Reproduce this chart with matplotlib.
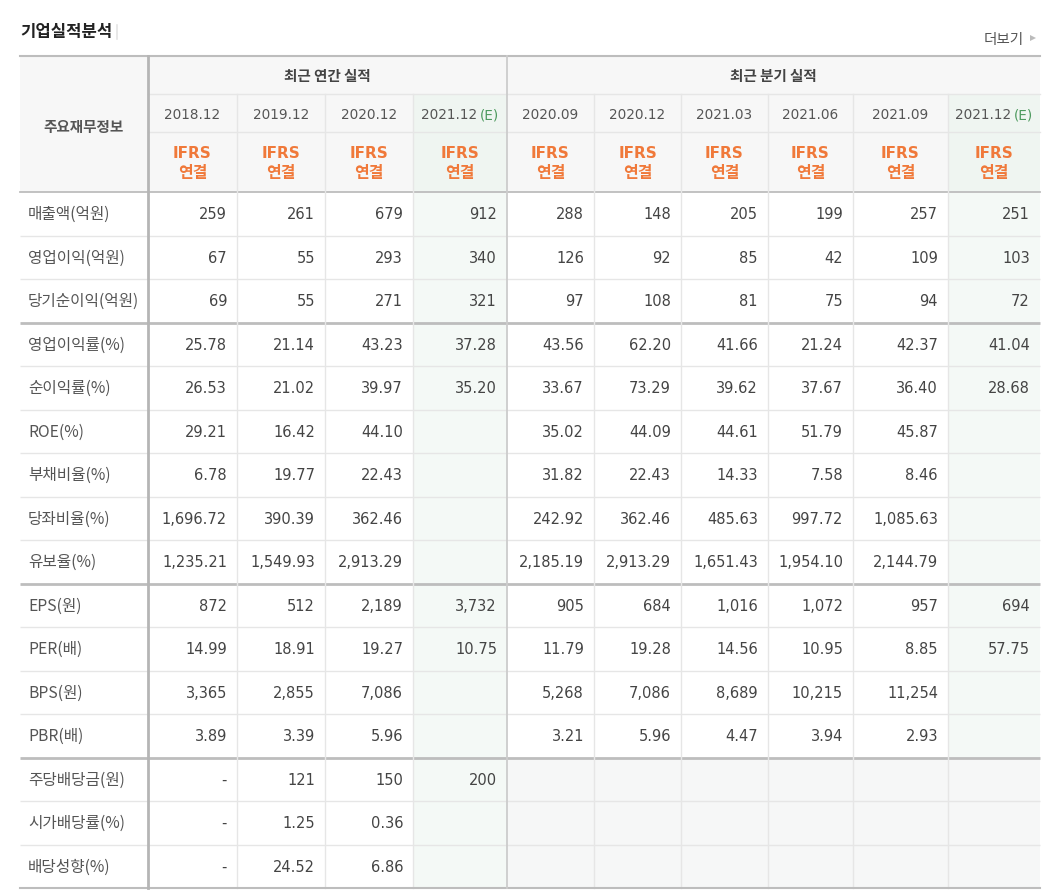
import matplotlib
matplotlib.use('Agg')
import matplotlib.pyplot as plt
from matplotlib.patches import Rectangle

# ---------------- data ----------------
title = '기업실적분석'
more_label = '더보기'
stub_header = '주요재무정보'
group_annual = '최근 연간 실적'
group_quarter = '최근 분기 실적'

annual_periods = ['2018.12', '2019.12', '2020.12', '2021.12']
annual_estimate = [False, False, False, True]
quarter_periods = ['2020.09', '2020.12', '2021.03', '2021.06', '2021.09', '2021.12']
quarter_estimate = [False, False, False, False, False, True]
basis_top = 'IFRS'
basis_bottom = '연결'

row_labels = ['매출액(억원)', '영업이익(억원)', '당기순이익(억원)', '영업이익률(%)', '순이익률(%)',
              'ROE(%)', '부채비율(%)', '당좌비율(%)', '유보율(%)', 'EPS(원)', 'PER(배)',
              'BPS(원)', 'PBR(배)', '주당배당금(원)', '시가배당률(%)', '배당성향(%)']
row_decimals = [0, 0, 0, 2, 2, 2, 2, 2, 2, 0, 2, 0, 2, 0, 2, 2]

# None = empty cell, '-' = dash
a_2018_12 = [259, 67, 69, 25.78, 26.53, 29.21, 6.78, 1696.72, 1235.21, 872, 14.99, 3365, 3.89, '-', '-', '-']
a_2019_12 = [261, 55, 55, 21.14, 21.02, 16.42, 19.77, 390.39, 1549.93, 512, 18.91, 2855, 3.39, 121, 1.25, 24.52]
a_2020_12 = [679, 293, 271, 43.23, 39.97, 44.10, 22.43, 362.46, 2913.29, 2189, 19.27, 7086, 5.96, 150, 0.36, 6.86]
a_2021_12e = [912, 340, 321, 37.28, 35.20, None, None, None, None, 3732, 10.75, None, None, 200, None, None]
q_2020_09 = [288, 126, 97, 43.56, 33.67, 35.02, 31.82, 242.92, 2185.19, 905, 11.79, 5268, 3.21, None, None, None]
q_2020_12 = [148, 92, 108, 62.20, 73.29, 44.09, 22.43, 362.46, 2913.29, 684, 19.28, 7086, 5.96, None, None, None]
q_2021_03 = [205, 85, 81, 41.66, 39.62, 44.61, 14.33, 485.63, 1651.43, 1016, 14.56, 8689, 4.47, None, None, None]
q_2021_06 = [199, 42, 75, 21.24, 37.67, 51.79, 7.58, 997.72, 1954.10, 1072, 10.95, 10215, 3.94, None, None, None]
q_2021_09 = [257, 109, 94, 42.37, 36.40, 45.87, 8.46, 1085.63, 2144.79, 957, 8.85, 11254, 2.93, None, None, None]
q_2021_12e = [251, 103, 72, 41.04, 28.68, None, None, None, None, 694, 57.75, None, None, None, None, None]

annual_cols = [a_2018_12, a_2019_12, a_2020_12, a_2021_12e]
quarter_cols = [q_2020_09, q_2020_12, q_2021_03, q_2021_06, q_2021_09, q_2021_12e]

# ---------------- layout ----------------
W, H = 1054, 895
KR = ['Noto Sans CJK KR', 'DejaVu Sans']
NUM = ['DejaVu Sans']
plt.rcParams['font.family'] = KR

fig = plt.figure(figsize=(W / 100, H / 100), dpi=100)
ax = fig.add_axes([0, 0, 1, 1])
ax.set_xlim(0, W)
ax.set_ylim(H, 0)
ax.axis('off')

left, right = 20, 1040
stub_w = 128
annual_w = [89, 88, 88, 94]
quarter_w = [87, 87, 87, 85, 95, 92]
col_edges = [left + stub_w]
for w in annual_w + quarter_w:
    col_edges.append(col_edges[-1] + w)

top = 57
h_group, h_period, h_basis = 38, 38, 60
y_group = top + h_group
y_period = y_group + h_period
y_basis = y_period + h_basis
row_h = (889 - y_basis) / len(row_labels)
row_edges = [y_basis + i * row_h for i in range(len(row_labels) + 1)]
bottom = row_edges[-1]

periods = annual_periods + quarter_periods
estimates = annual_estimate + quarter_estimate
columns = annual_cols + quarter_cols
n_annual = len(annual_periods)

HEAD_BG = '#f7f7f7'
EST_HEAD_BG = '#eff5f1'
EST_BG = '#f4f9f6'
EMPTY_BG = '#f6f7f7'
LIGHT = '#e6e6e6'
DARK = '#bdbdbd'
TXT = '#444444'
LBL = '#555555'
ORANGE = '#f0793a'
GREEN = '#4e9a5f'

# header background
ax.add_patch(Rectangle((left, top), right - left, y_basis - top, color=HEAD_BG, lw=0, zorder=0))
# estimate columns
for j, est in enumerate(estimates):
    if est:
        x0, x1 = col_edges[j], col_edges[j + 1]
        ax.add_patch(Rectangle((x0, y_group), x1 - x0, y_basis - y_group, color=EST_HEAD_BG, lw=0, zorder=0.5))
        ax.add_patch(Rectangle((x0, y_basis), x1 - x0, bottom - y_basis, color=EST_BG, lw=0, zorder=0.5))
# empty dividend area in quarterly section
for j in range(n_annual, len(columns)):
    for i in range(len(row_labels)):
        if i >= 13 and columns[j][i] is None:
            ax.add_patch(Rectangle((col_edges[j], row_edges[i]), col_edges[j + 1] - col_edges[j], row_h,
                                   color=EMPTY_BG, lw=0, zorder=0.6))

# grid lines
for i, y in enumerate(row_edges[1:-1], start=1):
    thick = i in (3, 9, 13)
    ax.plot([left, right], [y, y], color=DARK if thick else LIGHT, lw=2 if thick else 1, zorder=2,
            solid_capstyle='butt')
ax.plot([col_edges[0], right], [y_group, y_group], color=LIGHT, lw=1, zorder=2)
ax.plot([col_edges[0], right], [y_period, y_period], color=LIGHT, lw=1, zorder=2)
ax.plot([left, right], [y_basis, y_basis], color=DARK, lw=1.3, zorder=2)
ax.plot([left, right], [top, top], color=DARK, lw=1.5, zorder=3)
ax.plot([left, right], [bottom, bottom], color=DARK, lw=1.5, zorder=3)
for j, x in enumerate(col_edges[:-1]):
    if j == 0:
        ax.plot([x, x], [top, bottom], color='#b5b5b5', lw=2, zorder=3)
    elif j == n_annual:
        ax.plot([x, x], [top, bottom], color='#cccccc', lw=1.3, zorder=3)
    else:
        ax.plot([x, x], [y_group, bottom], color=LIGHT, lw=1, zorder=2)

# title & more link
ax.text(left, 32, title, fontsize=12, fontweight='bold', color='#222222', va='center', ha='left')
ax.plot([117, 117], [26, 40], color='#e4e4e4', lw=1.2)
ax.text(1024, 40, more_label, fontsize=10.5, color='#555555', va='center', ha='right')
ax.plot([1033], [39], marker='>', color='#bbbbbb', markersize=4.5, markeredgewidth=0)

# header texts
ax.text((left + col_edges[0]) / 2, 127, stub_header, fontsize=10.5, fontweight='bold', color='#555555',
        ha='center', va='center')
ax.text((col_edges[0] + col_edges[n_annual]) / 2, (top + y_group) / 2, group_annual, fontsize=10.5,
        fontweight='bold', color='#444444', ha='center', va='center')
ax.text((col_edges[n_annual] + col_edges[-1]) / 2, (top + y_group) / 2, group_quarter, fontsize=10.5,
        fontweight='bold', color='#444444', ha='center', va='center')

fig.canvas.draw()
renderer = fig.canvas.get_renderer()
inv = ax.transData.inverted()


def text_width(t):
    bb = t.get_window_extent(renderer=renderer)
    (x0, _), (x1, _) = inv.transform([(bb.x0, 0), (bb.x1, 0)])
    return x1 - x0


for j, (p, est) in enumerate(zip(periods, estimates)):
    xc = (col_edges[j] + col_edges[j + 1]) / 2
    yc = (y_group + y_period) / 2 + 1
    if est:
        t1 = ax.text(0, yc, p, fontsize=9.8, color='#555555', ha='left', va='center', family=NUM)
        t2 = ax.text(0, yc, '(E)', fontsize=9.8, color=GREEN, ha='left', va='center', family=NUM)
        w1, w2 = text_width(t1), text_width(t2)
        gap = 2
        start = xc - (w1 + gap + w2) / 2
        t1.set_x(start)
        t2.set_x(start + w1 + gap)
    else:
        ax.text(xc, yc, p, fontsize=9.8, color='#555555', ha='center', va='center', family=NUM)
    ax.text(xc, 153, basis_top, fontsize=11, fontweight='bold', color=ORANGE, ha='center', va='center',
            family=NUM)
    ax.text(xc, 173, basis_bottom, fontsize=11.5, fontweight='bold', color=ORANGE, ha='center', va='center')


def fmt(v, d):
    if v is None:
        return ''
    if isinstance(v, str):
        return v
    return f'{v:,.{d}f}'


for i, lab in enumerate(row_labels):
    yc = (row_edges[i] + row_edges[i + 1]) / 2
    ax.text(left + 8, yc, lab, fontsize=11.3, color=LBL, ha='left', va='center')
    for j, col in enumerate(columns):
        s = fmt(col[i], row_decimals[i])
        if s:
            ax.text(col_edges[j + 1] - 10, yc, s, fontsize=10.5, color=TXT, ha='right', va='center',
                    family=NUM)

fig.savefig('out.png', dpi=100, facecolor='white')
